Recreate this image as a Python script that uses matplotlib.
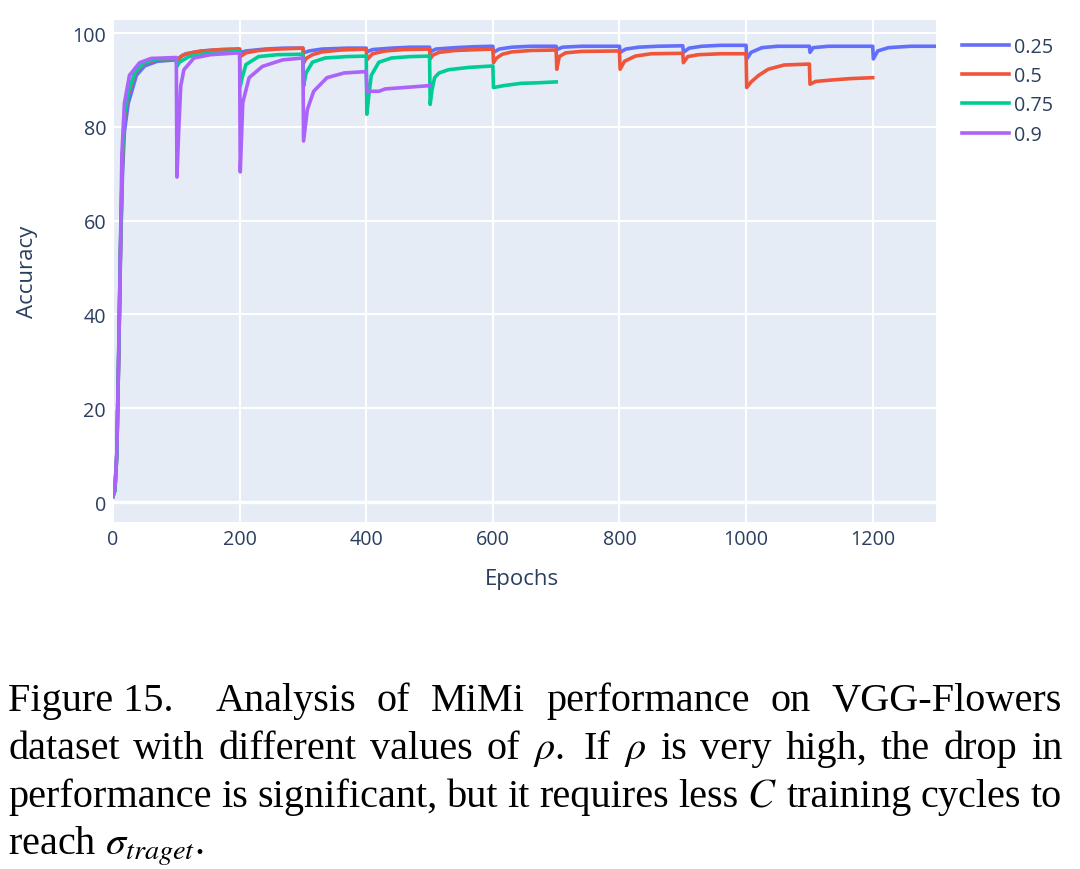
import matplotlib
matplotlib.use("Agg")
import matplotlib.pyplot as plt

# ---------------- data ----------------
rho_labels = ["0.25", "0.5", "0.75", "0.9"]

epochs_025 = [0, 3, 6, 9, 12, 15, 18, 24, 37, 50, 70, 100,
              101, 105, 115, 140, 170, 200,
              201, 210, 240, 270, 300,
              301, 310, 330, 370, 400,
              401, 410, 440, 470, 500,
              501, 510, 540, 570, 600,
              601, 610, 630, 660, 700,
              701, 710, 740, 800,
              801, 810, 830, 860, 900,
              901, 910, 930, 960, 1000,
              1001, 1008, 1025, 1050, 1100,
              1101, 1106, 1130, 1200,
              1201, 1208, 1225, 1260, 1300]
acc_025 = [1.2, 2.5, 10, 31, 54, 70, 79, 85, 91, 93, 94, 94.3,
           93.5, 94.8, 95.6, 96.2, 96.5, 96.6,
           95.8, 96.2, 96.6, 96.8, 96.8,
           95.8, 96.2, 96.6, 96.8, 96.8,
           96.0, 96.5, 96.8, 97.0, 97.0,
           96.0, 96.6, 96.9, 97.1, 97.2,
           95.9, 96.6, 97.0, 97.2, 97.2,
           96.5, 97.0, 97.2, 97.2,
           95.9, 96.6, 97.0, 97.2, 97.3,
           95.9, 96.8, 97.2, 97.4, 97.4,
           94.5, 95.9, 96.9, 97.2, 97.2,
           95.9, 96.9, 97.2, 97.2,
           94.5, 96.2, 96.9, 97.2, 97.2]

epochs_05 = [0, 3, 6, 9, 12, 15, 18, 24, 35, 50, 70, 100,
             101, 110, 130, 160, 200,
             201, 210, 230, 260, 300,
             301, 305, 315, 330, 360, 400,
             401, 410, 430, 460, 500,
             501, 505, 515, 540, 600,
             601, 605, 615, 630, 660, 700,
             701, 705, 715, 740, 800,
             801, 808, 825, 850, 900,
             901, 908, 925, 960, 1000,
             1001, 1008, 1020, 1035, 1060, 1100,
             1101, 1110, 1135, 1165, 1200]
acc_05 = [1.2, 2.5, 10, 31, 55, 73, 82, 87, 91.5, 93.6, 94.4, 94.6,
          94.2, 95.3, 96.0, 96.4, 96.6,
          95.0, 95.8, 96.3, 96.6, 96.8,
          93.6, 94.6, 95.4, 96.0, 96.4, 96.6,
          94.3, 95.6, 96.2, 96.5, 96.6,
          94.5, 95.3, 95.9, 96.3, 96.6,
          93.7, 94.6, 95.5, 96.0, 96.3, 96.4,
          92.3, 95.0, 95.8, 96.1, 96.2,
          92.3, 94.0, 95.1, 95.6, 95.7,
          93.7, 95.0, 95.4, 95.6, 95.6,
          88.4, 89.6, 91.0, 92.3, 93.2, 93.4,
          89.1, 89.7, 90.0, 90.3, 90.5]

epochs_075 = [0, 3, 6, 9, 12, 15, 18, 24, 35, 50, 70, 100,
              101, 105, 120, 150, 200,
              201, 204, 210, 230, 260, 300,
              301, 305, 315, 335, 370, 400,
              401, 404, 408, 420, 440, 470, 500,
              501, 504, 508, 515, 530, 563, 600,
              601, 617, 645, 670, 700]
acc_075 = [1.2, 2.5, 10, 32, 56, 74, 82.5, 87.5, 91.8, 93.8, 94.5, 94.6,
           92.9, 93.8, 95.0, 95.7, 96.1,
           88.7, 90.5, 93.3, 95.0, 95.4, 95.5,
           88.7, 91.5, 93.8, 94.7, 95.0, 95.1,
           82.7, 86.6, 91.0, 93.8, 94.7, 95.0, 95.1,
           84.8, 88.0, 90.5, 91.5, 92.2, 92.7, 93.0,
           88.4, 88.8, 89.3, 89.4, 89.6]

epochs_09 = [0, 3, 6, 9, 12, 14, 18, 26, 42, 60, 80, 100,
             101, 104, 107, 112, 128, 154, 200,
             201, 205, 215, 236, 268, 300,
             301, 307, 317, 338, 365, 400,
             401, 420, 430, 460, 500]
acc_09 = [1.2, 3, 10.5, 32, 56, 74, 85, 91, 93.7, 94.6, 94.7, 94.8,
          69.3, 80, 88.7, 92.2, 94.7, 95.4, 95.8,
          70.4, 85.2, 90.5, 92.9, 94.3, 94.7,
          77.0, 83.7, 87.6, 90.5, 91.5, 91.8,
          87.6, 87.6, 88.1, 88.4, 88.8]

x_ticks = [0, 200, 400, 600, 800, 1000, 1200]
y_ticks = [0, 20, 40, 60, 80, 100]
x_label = "Epochs"
y_label = "Accuracy"

caption_justified = [
    ["Figure 15.", "Analysis", "of", "MiMi", "performance", "on", "VGG-Flowers"],
    ["dataset", "with", "different", "values", "of", r"$\rho$.", "If", r"$\rho$", "is",
     "very", "high,", "the", "drop", "in"],
    ["performance", "is", "significant,", "but", "it", "requires", "less", r"$C$",
     "training", "cycles", "to"],
]
caption_last = r"reach $\sigma_{traget}$."

# ---------------- style ----------------
series = [(epochs_025, acc_025), (epochs_05, acc_05),
          (epochs_075, acc_075), (epochs_09, acc_09)]
colors = ["#636efa", "#EF553B", "#00cc96", "#ab63fa"]
font_col = "#2a3f5f"
W, H = 1080, 870
tick_fs = 14.2
title_fs = 16.0

plt.rcParams["mathtext.fontset"] = "stix"
fig = plt.figure(figsize=(W / 100, H / 100), dpi=100)
fig.patch.set_facecolor("white")

ax = fig.add_axes([113 / W, 1 - 523 / H, (936 - 113) / W, (523 - 21) / H])
ax.set_facecolor("#E5ECF6")
for s in ax.spines.values():
    s.set_visible(False)

for (ex, ay), c, lab in zip(series, colors, rho_labels):
    ax.plot(ex, ay, color=c, lw=2.6, label=lab, solid_joinstyle="round", zorder=3)

ax.set_xlim(0, 1300)
ax.set_ylim(-4.26, 102.8)
ax.set_xticks(x_ticks)
ax.set_yticks(y_ticks)
ax.grid(True, color="white", lw=1.5, zorder=0)
ax.set_axisbelow(True)
ax.axhline(0, color="white", lw=2.4, zorder=1)
ax.tick_params(axis="x", length=0, labelsize=tick_fs, labelcolor=font_col, pad=5)
ax.tick_params(axis="y", length=0, labelsize=tick_fs, labelcolor=font_col, pad=5)
for t in ax.get_xticklabels() + ax.get_yticklabels():
    t.set_family("Open Sans")

ax.set_xlabel(x_label, fontsize=title_fs, color=font_col, family="Open Sans", va="center")
ax.xaxis.set_label_coords(0.497, -(580 - 523) / (523 - 21))
ax.set_ylabel(y_label, fontsize=title_fs, color=font_col, family="Open Sans",
              va="center", ha="center")
ax.yaxis.set_label_coords(-(113 - 28) / (936 - 113), 0.5)

leg = ax.legend(loc="upper left", bbox_to_anchor=(952 / W, 1 - 28 / H),
                bbox_transform=fig.transFigure, frameon=False, borderpad=0,
                handlelength=2.4, handletextpad=0.25, labelspacing=0.47,
                prop={"family": "Open Sans", "size": tick_fs})
for t in leg.get_texts():
    t.set_color(font_col)
for l in leg.get_lines():
    l.set_linewidth(2.6)

# ---------------- caption ----------------
renderer = fig.canvas.get_renderer()
cap_size = 29
cap_family = "Liberation Serif"
left_px, right_px = 8, 1062
baselines = [711, 759, 807, 855]
for line_words, base in zip(caption_justified, baselines[:3]):
    texts = [fig.text(0, 0, w, fontsize=cap_size, family=cap_family, color="black",
                      va="baseline", ha="left") for w in line_words]
    widths = [t.get_window_extent(renderer).width for t in texts]
    weights = []
    for w in line_words[:-1]:
        if w == "Figure 15.":
            weights.append(2.0)
        elif w.endswith("."):
            weights.append(1.4)
        else:
            weights.append(1.0)
    gap_unit = (right_px - left_px - sum(widths)) / sum(weights)
    x = left_px
    for i, t in enumerate(texts):
        t.set_position((x / W, 1 - base / H))
        x += widths[i]
        if i < len(weights):
            x += gap_unit * weights[i]
fig.text(left_px / W, 1 - baselines[3] / H, caption_last, fontsize=cap_size,
         family=cap_family, color="black", va="baseline", ha="left")

fig.savefig("out.png", dpi=100, facecolor="white")
